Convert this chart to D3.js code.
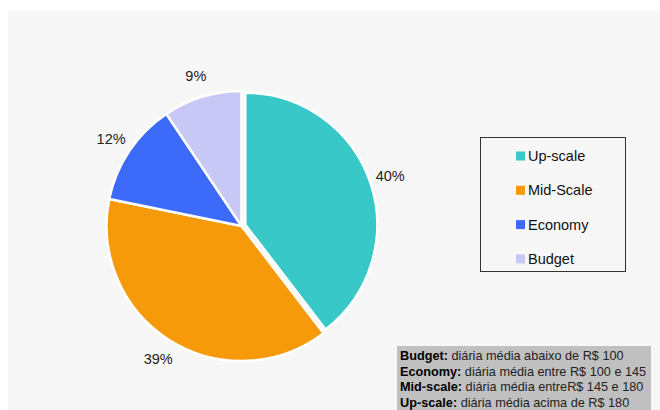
<!DOCTYPE html>
<html lang="pt">
<head>
  <meta charset="UTF-8">
  <title>Categorias</title>
  <style>
    body { margin: 0; background: #fff; }
    text { font-family: 'Liberation Sans', Arial, sans-serif; }
  </style>
</head>
<body>

  <svg id="svg" width="660" height="410"></svg>

  <script src="https://d3js.org/d3.v7.min.js"></script>
  <script>
    const categories = ['Up-scale', 'Mid-Scale', 'Economy', 'Budget']
    // shares; labels show them rounded
    const shares = [39.6, 38.6, 12.4, 9.4]
    const colors = ['#38c8c8', '#f79a0a', '#3c6bfa', '#c8c8f6']
    const noteLabels = ['Budget:', 'Economy:', 'Mid-scale:', 'Up-scale:']
    const noteTexts = [
      ' diária média abaixo de R$ 100',
      ' diária média entre R$ 100 e 145',
      ' diária média entreR$ 145 e 180',
      ' diária média acima de R$ 180'
    ]

    const svg = d3.select('#svg')

    // panel background
    svg.append('rect')
      .attr('x', 8).attr('y', 11)
      .attr('width', 652).attr('height', 399)
      .attr('fill', '#f7f7f7')

    const data = categories.map((c, i) => ({ name: c, value: shares[i], color: colors[i] }))
    const total = d3.sum(shares)

    const pie = d3.pie().sort(null).value(d => d.value)
    const arcs = pie(data)

    const cx = 241.5, cy = 226, r = 135

    const arc = d3.arc().innerRadius(0).outerRadius(r)
    const arcExploded = d3.arc().innerRadius(0).outerRadius(r - 3)
    const labelArc = d3.arc().innerRadius(157).outerRadius(157)

    const g = svg.append('g').attr('transform', `translate(${cx},${cy})`)

    // the first slice is pulled out a little
    g.selectAll('path')
      .data(arcs)
      .enter()
      .append('path')
      .attr('d', (d, i) => i === 0 ? arcExploded(d) : arc(d))
      .attr('transform', (d, i) => {
        if (i !== 0) return null
        const mid = (d.startAngle + d.endAngle) / 2
        return `translate(${Math.sin(mid) * 4},${-Math.cos(mid) * 4})`
      })
      .attr('fill', d => d.data.color)
      .attr('stroke', '#fff')
      .attr('stroke-width', 2.5)

    g.selectAll('text')
      .data(arcs)
      .enter()
      .append('text')
      .attr('x', d => labelArc.centroid(d)[0])
      .attr('y', d => labelArc.centroid(d)[1])
      .attr('text-anchor', 'middle')
      .attr('dominant-baseline', 'central')
      .style('font-size', '14.5px')
      .attr('fill', '#222')
      .text(d => Math.round(d.data.value / total * 100) + '%')

    // --------------- legend ---------------
    svg.append('rect')
      .attr('x', 480.5).attr('y', 137.5)
      .attr('width', 145).attr('height', 134)
      .attr('fill', '#f7f7f7')
      .attr('stroke', '#333')

    const legend = svg.append('g')
      .selectAll('g')
      .data(data)
      .enter()
      .append('g')
      .attr('transform', (d, i) => `translate(516,${156 + i * 34.3})`)

    legend.append('rect')
      .attr('x', 0).attr('y', -4.5)
      .attr('width', 9).attr('height', 9)
      .attr('fill', d => d.color)

    legend.append('text')
      .attr('x', 12).attr('y', 0)
      .attr('dominant-baseline', 'central')
      .style('font-size', '14.5px')
      .attr('fill', '#111')
      .text(d => d.name)

    // --------------- note box ---------------
    svg.append('rect')
      .attr('x', 397).attr('y', 346)
      .attr('width', 254).attr('height', 64)
      .attr('fill', '#c0c0c0')

    const note = svg.append('g')
      .selectAll('text')
      .data(noteLabels)
      .enter()
      .append('text')
      .attr('x', 400)
      .attr('y', (d, i) => 360 + i * 15.5)
      .style('font-size', '12.7px')
      .attr('fill', '#000')

    note.append('tspan')
      .style('font-weight', 'bold')
      .text(d => d)
    note.append('tspan')
      .attr('fill', '#222')
      .text((d, i) => noteTexts[i])
  </script>
</body>
</html>
